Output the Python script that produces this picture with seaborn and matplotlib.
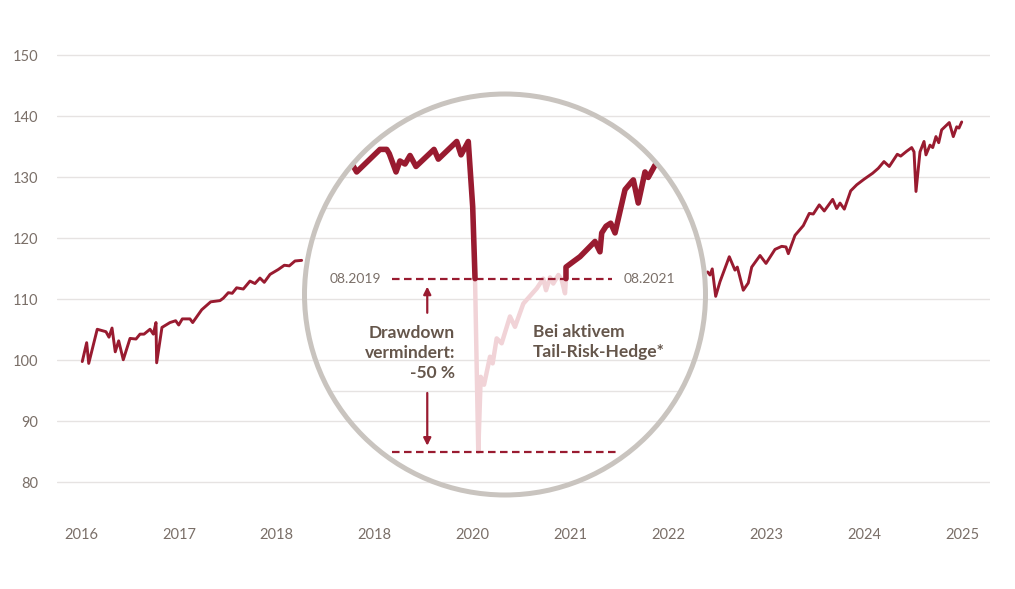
import pandas as pd
import matplotlib
matplotlib.use("Agg")
import matplotlib.pyplot as plt
from matplotlib.patches import Ellipse
import seaborn as sns

# outer series (visible parts left and right of the magnifier)
left_years = [2016.013, 2016.058, 2016.079, 2016.166, 2016.255, 2016.286, 2016.317, 2016.350,
              2016.385, 2016.432, 2016.501, 2016.562, 2016.603, 2016.644, 2016.705, 2016.739,
              2016.766, 2016.773, 2016.827, 2016.909, 2016.967, 2016.998, 2017.035, 2017.113,
              2017.141, 2017.233, 2017.325, 2017.420, 2017.454, 2017.505, 2017.545, 2017.590,
              2017.658, 2017.726, 2017.777, 2017.828, 2017.872, 2017.931, 2018.015, 2018.077,
              2018.128, 2018.186, 2018.254]
left_values = [99.8, 102.9, 99.5, 105.1, 104.7, 103.8, 105.3, 101.4,
               103.2, 100.1, 103.6, 103.5, 104.3, 104.3, 105.1, 104.3,
               106.2, 99.6, 105.4, 106.2, 106.5, 105.8, 106.8, 106.8,
               106.2, 108.3, 109.6, 109.8, 110.2, 111.1, 111.0, 111.9,
               111.7, 113.0, 112.6, 113.5, 112.8, 114.1, 114.9, 115.6,
               115.5, 116.3, 116.4]

right_years = [2022.401, 2022.425, 2022.448, 2022.483, 2022.527, 2022.622, 2022.680, 2022.704,
               2022.765, 2022.816, 2022.851, 2022.936, 2022.997, 2023.089, 2023.157, 2023.201,
               2023.225, 2023.293, 2023.378, 2023.439, 2023.480, 2023.541, 2023.592, 2023.678,
               2023.719, 2023.753, 2023.797, 2023.862, 2023.924, 2023.998, 2024.087, 2024.144,
               2024.202, 2024.256, 2024.338, 2024.373, 2024.434, 2024.485, 2024.509, 2024.529,
               2024.570, 2024.611, 2024.631, 2024.672, 2024.700, 2024.733, 2024.761, 2024.791,
               2024.869, 2024.910, 2024.945, 2024.968, 2024.996]
right_values = [114.5, 114.0, 115.0, 110.5, 112.9, 117.0, 114.8, 115.3,
                111.5, 112.7, 115.3, 117.2, 115.9, 118.2, 118.7, 118.6,
                117.5, 120.5, 122.1, 124.1, 124.0, 125.5, 124.5, 126.4,
                124.9, 125.8, 124.8, 127.8, 128.8, 129.7, 130.7, 131.5,
                132.6, 131.8, 133.8, 133.5, 134.3, 134.9, 134.2, 127.7,
                134.2, 135.9, 133.7, 135.3, 134.9, 136.7, 135.7, 137.8,
                139.0, 136.7, 138.3, 138.1, 139.1]

# magnified view: with tail-risk hedge (dark) and the avoided drawdown (pink)
pre_years = [2018.707, 2018.765, 2018.816, 2019.054, 2019.123, 2019.149, 2019.218, 2019.258,
             2019.310, 2019.361, 2019.422, 2019.606, 2019.650, 2019.838, 2019.882, 2019.956,
             2020.001, 2020.025]
pre_values = [131.5, 132.3, 130.9, 134.6, 134.6, 133.9, 130.9, 132.7,
              132.2, 133.6, 131.8, 134.6, 133.0, 135.9, 133.7, 135.9,
              125.2, 113.4]

dd_years = [2020.025, 2020.058, 2020.083, 2020.117, 2020.178, 2020.205, 2020.246, 2020.297,
            2020.382, 2020.433, 2020.518, 2020.655, 2020.722, 2020.750, 2020.791, 2020.824,
            2020.876, 2020.910, 2020.944, 2020.954]
dd_values = [113.4, 85.0, 97.3, 96.0, 100.6, 99.5, 103.6, 102.8,
             107.2, 105.5, 109.3, 111.8, 113.4, 111.5, 113.6, 112.6,
             114.0, 113.2, 111.0, 113.4]

post_years = [2020.954, 2020.954, 2021.029, 2021.097, 2021.250, 2021.301, 2021.319, 2021.363,
              2021.411, 2021.455, 2021.557, 2021.625, 2021.642, 2021.692, 2021.761, 2021.794,
              2021.863, 2021.955]
post_values = [113.4, 115.3, 116.2, 117.0, 119.5, 117.8, 120.9, 122.0,
               122.5, 120.9, 128.0, 129.3, 129.6, 125.8, 130.9, 130.0,
               132.0, 133.0]

high_level = 113.3
low_level = 85.0
year_ticks = [2016, 2017, 2018, 2019, 2020, 2021, 2022, 2023, 2024, 2025]
year_labels = ["2016", "2017", "2018", "2018", "2020", "2021", "2022", "2023", "2024", "2025"]
y_ticks = [80, 90, 100, 110, 120, 130, 140, 150]
inner_grid = [80, 90, 95, 100, 110, 120, 125, 130, 140]

RED = "#991b30"
PINK = "#f1d3d7"
GRID = "#e6e3e2"
TICK = "#7a6f68"
TEXT = "#65564b"
RING = "#c9c4bf"

sns.set_theme(style="white")
plt.rcParams["font.family"] = ["Lato", "DejaVu Sans"]

W, H = 1015, 589
fig = plt.figure(figsize=(W / 100, H / 100), dpi=100)
pos = [57 / W, (H - 494.5) / H, (990 - 57) / W, (494.5 - 43.3) / H]
xlim = (2015.755, 2025.285)
ylim = (78, 152)

ax = fig.add_axes(pos)
sns.lineplot(x=left_years, y=left_values, ax=ax, color=RED, lw=2.1,
             estimator=None, sort=False, legend=False)
sns.lineplot(x=right_years, y=right_values, ax=ax, color=RED, lw=2.1,
             estimator=None, sort=False, legend=False)
ax.set_xlim(*xlim)
ax.set_ylim(*ylim)
ax.set_yticks(y_ticks)
ax.set_xticks(year_ticks)
ax.set_xticklabels(year_labels)
ax.yaxis.grid(True, color=GRID, lw=1.0)
ax.xaxis.grid(False)
ax.set_axisbelow(True)
ax.tick_params(axis="y", length=0, pad=13.5, labelsize=10.5, labelcolor=TICK)
ax.tick_params(axis="x", length=0, pad=24, labelsize=10.5, labelcolor=TICK)
ax.set_xlabel("")
ax.set_ylabel("")
sns.despine(ax=ax, left=True, bottom=True)

# magnifier
ax2 = fig.add_axes(pos)
ax2.set_xlim(*xlim)
ax2.set_ylim(*ylim)
ax2.axis("off")
cx, cy, r = 505 / W, (H - 294.5) / H, 200.5
disk = Ellipse((cx, cy), 2 * r / W, 2 * r / H, transform=fig.transFigure,
               facecolor="white", edgecolor="none", zorder=0.5, clip_on=False)
ax2.add_patch(disk)

for v in inner_grid:
    ax2.axhline(v, color=GRID, lw=1.0, zorder=1)

sns.lineplot(x=dd_years, y=dd_values, ax=ax2, color=PINK, lw=3.2,
             estimator=None, sort=False, legend=False, zorder=2)
sns.lineplot(x=pre_years, y=pre_values, ax=ax2, color=RED, lw=4.0,
             estimator=None, sort=False, legend=False, zorder=3)
sns.lineplot(x=post_years, y=post_values, ax=ax2, color=RED, lw=4.0,
             estimator=None, sort=False, legend=False, zorder=3)

ax2.plot([2019.174, 2021.421], [high_level, high_level], color=RED, lw=1.6,
         dashes=(3.4, 2.0), zorder=4)
ax2.plot([2019.173, 2021.485], [low_level, low_level], color=RED, lw=1.6,
         dashes=(3.4, 2.0), zorder=4)

for ln in ax2.lines:
    ln.set_clip_path(disk)

ax2.text(2019.062, high_level, "08.2019", ha="right", va="center",
         fontsize=10, color=TICK)
ax2.text(2021.539, high_level, "08.2021", ha="left", va="center",
         fontsize=10, color=TICK)

arrow = dict(arrowstyle="-|>", color=RED, lw=1.6, mutation_scale=11,
             shrinkA=0, shrinkB=0)
ax2.annotate("", xy=(2019.537, 112.1), xytext=(2019.537, 107.8), arrowprops=arrow)
ax2.annotate("", xy=(2019.537, 86.0), xytext=(2019.537, 94.65), arrowprops=arrow)

ax2.text(2019.820, 101.16, "Drawdown\nvermindert:\n-50 %", ha="right", va="center",
         fontsize=12.5, fontweight="bold", color=TEXT, linespacing=1.3)
ax2.text(2020.614, 103.06, "Bei aktivem\nTail-Risk-Hedge*", ha="left", va="center",
         fontsize=12.5, fontweight="bold", color=TEXT, linespacing=1.3)

ring = Ellipse((cx, cy), 2 * r / W, 2 * r / H, transform=fig.transFigure,
               facecolor="none", edgecolor=RING, lw=3.6, zorder=6, clip_on=False)
ax2.add_patch(ring)

fig.savefig("out.png", dpi=100, facecolor="white")
